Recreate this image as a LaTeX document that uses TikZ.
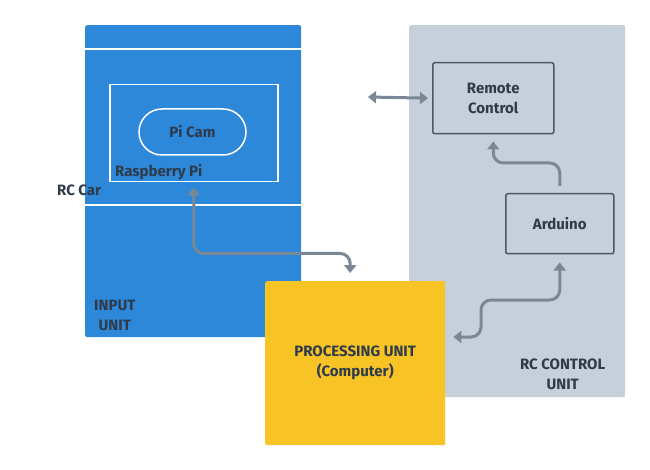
\documentclass[tikz,border=0pt]{standalone}
\usepackage{fontspec}
\setmainfont{Fira Sans}
\usepackage{xcolor}
\usepackage{tikz}
\usetikzlibrary{calc,positioning,arrows.meta}

\definecolor{inputblue}{HTML}{2D88D9}
\definecolor{ctrlgray}{HTML}{C5D0DA}
\definecolor{procyellow}{HTML}{F7C325}
\definecolor{linkgray}{HTML}{7A8896}
\definecolor{inkdark}{HTML}{2F3B4B}
\definecolor{partedge}{HTML}{4B5868}

\begin{document}
\begin{tikzpicture}[x=1pt,y=-1pt,align=center,
        every node/.style={inner sep=0pt, text=inkdark, font=\bfseries\fontsize{15}{20}\selectfont},
        unit/.style={anchor=north west, rounded corners=2pt},
        part/.style={anchor=north west, draw=partedge, line width=1.5pt, rounded corners=2pt},
        flow/.style={draw=linkgray, line width=3pt, rounded corners=10pt},
        >={Triangle[width=12pt,length=8pt]}]
        \useasboundingbox (0,0) rectangle (650,470);

        \node [unit, fill=ctrlgray, minimum width=216pt, minimum height=372pt] (control) at (409,25) {};
        \node [unit, fill=inputblue, minimum width=216pt, minimum height=312pt] (input) at (85,25) {};
        \draw[white, line width=1.5pt] ([yshift=-24pt]input.north west) -- ([yshift=-24pt]input.north east);
        \draw[white, line width=1.5pt] ([yshift=-180pt]input.north west) -- ([yshift=-180pt]input.north east);

        \node [anchor=north west, draw=white, line width=1.5pt, minimum width=168pt, minimum height=97pt] (rpi) at (109,84) {};
        \node [draw=white, line width=1.5pt, rounded corners=23pt, minimum width=107pt, minimum height=46pt] (picam) at (192.5,132) {Pi Cam};
        \node [above right=2pt and 6pt of rpi.south west, anchor=south west] (rpilabel) {Raspberry Pi};
        \node [anchor=west] (carlabel) at (57,190) {RC Car};
        \node [above right=6pt and 9pt of input.south west] (inputlabel) {INPUT\\UNIT};

        \node [part, minimum width=121pt, minimum height=71pt] (remote) at (432,62) {Remote\\Control};
        \node [part, minimum width=108pt, minimum height=60pt] (arduino) at (505,193) {Arduino};
        \node [above left=7pt and 20pt of control.south east] (controllabel) {RC CONTROL\\UNIT};

        \node [unit, fill=procyellow, minimum width=180pt, minimum height=164pt] (proc) at (265,281) {PROCESSING UNIT\\(Computer)};

        \coordinate (rclink) at (368,97);
        \coordinate (procport) at ($(proc.north east)+(0,56)$);

        \draw[flow, <->, shorten >=4pt] (rclink) -- (remote.west);
        \draw[flow, ->, shorten <=7pt, shorten >=7pt] (arduino.north) -- ++(0,-30) -| (remote.south);
        \draw[flow, <->, shorten <=5pt, shorten >=8pt] (rpi.south) -- ++(0,71) -| ([xshift=-5pt]proc.north);
        \draw[flow, <->, shorten <=8pt, shorten >=8pt] (procport) -- (481,337) -- (481,300) -| (arduino.south);

    \end{tikzpicture}
\end{document}
